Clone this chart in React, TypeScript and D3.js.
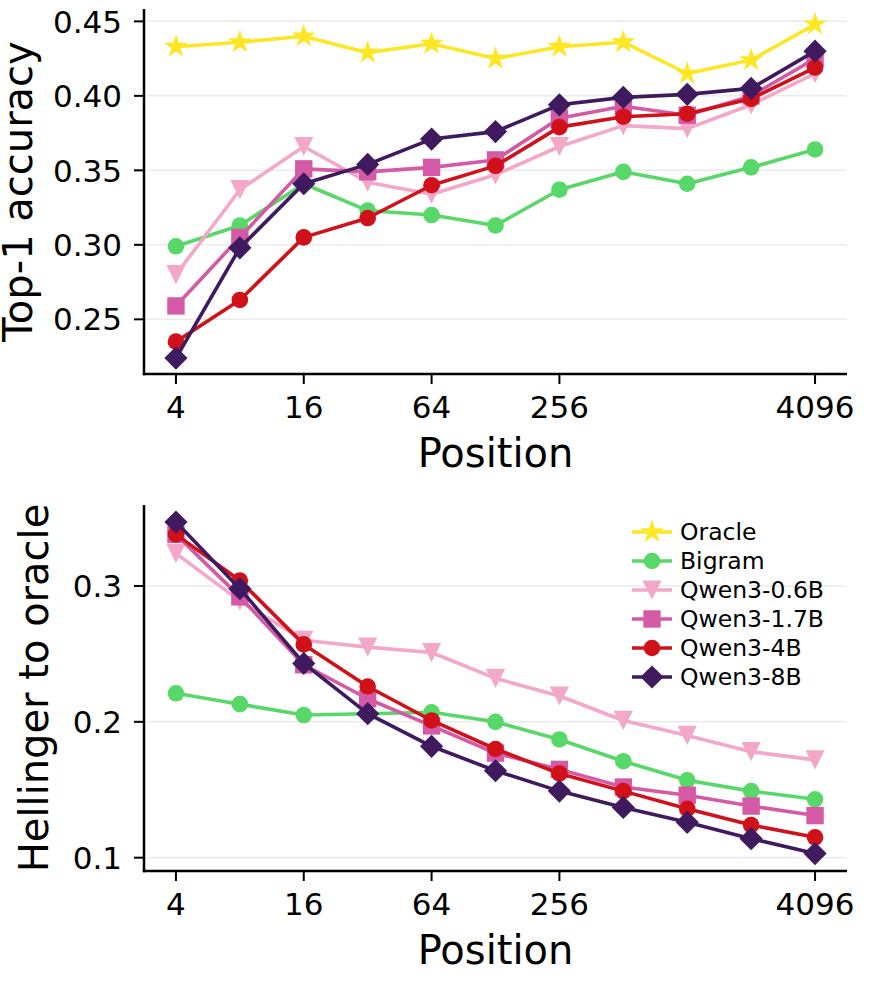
import * as d3 from "d3";
import { useEffect, useRef } from "react";

// x positions (log2 axis)
const positions = [4, 8, 16, 32, 64, 128, 256, 512, 1024, 2048, 4096];
const xTickValues = [4, 16, 64, 256, 4096];

const seriesNames = ["Oracle", "Bigram", "Qwen3-0.6B", "Qwen3-1.7B", "Qwen3-4B", "Qwen3-8B"];
const seriesColors = ["#fde725", "#57d868", "#f3a7c9", "#d45aa6", "#d0111a", "#3f1a5e"];
const seriesMarkers = ["star", "circle", "triangleDown", "square", "circle", "diamond"];

// top panel: Top-1 accuracy
const oracleTop = [0.433, 0.436, 0.44, 0.429, 0.435, 0.425, 0.433, 0.436, 0.415, 0.424, 0.448];
const bigramTop = [0.299, 0.313, 0.341, 0.323, 0.32, 0.313, 0.337, 0.349, 0.341, 0.352, 0.364];
const qwen06Top = [0.28, 0.337, 0.366, 0.342, 0.334, 0.347, 0.366, 0.38, 0.378, 0.394, 0.415];
const qwen17Top = [0.259, 0.305, 0.351, 0.349, 0.352, 0.357, 0.385, 0.393, 0.387, 0.4, 0.425];
const qwen4Top = [0.235, 0.263, 0.305, 0.318, 0.34, 0.353, 0.379, 0.386, 0.388, 0.398, 0.419];
const qwen8Top = [0.224, 0.298, 0.341, 0.354, 0.371, 0.376, 0.394, 0.399, 0.401, 0.405, 0.43];
const topTicks = [0.25, 0.3, 0.35, 0.4, 0.45];

// bottom panel: Hellinger distance to oracle (oracle itself not drawn)
const bigramBot = [0.221, 0.213, 0.205, 0.206, 0.207, 0.2, 0.187, 0.171, 0.157, 0.149, 0.143];
const qwen06Bot = [0.324, 0.289, 0.26, 0.255, 0.251, 0.232, 0.219, 0.201, 0.19, 0.178, 0.172];
const qwen17Bot = [0.338, 0.292, 0.242, 0.217, 0.197, 0.177, 0.165, 0.152, 0.146, 0.138, 0.131];
const qwen4Bot = [0.338, 0.304, 0.257, 0.226, 0.201, 0.18, 0.162, 0.149, 0.136, 0.124, 0.115];
const qwen8Bot = [0.347, 0.298, 0.243, 0.206, 0.182, 0.164, 0.149, 0.137, 0.126, 0.114, 0.103];
const botTicks = [0.1, 0.2, 0.3];

const FONT = "DejaVu Sans";

function markerPath(kind: string): string {
  if (kind === "circle") {
    return d3.symbol(d3.symbolCircle, Math.PI * 8.3 * 8.3)()!;
  }
  if (kind === "square") {
    const s = 8.7;
    return `M${-s},${-s}L${s},${-s}L${s},${s}L${-s},${s}Z`;
  }
  if (kind === "diamond") {
    const s = 11.6;
    return `M0,${-s}L${s},0L0,${s}L${-s},0Z`;
  }
  if (kind === "triangleDown") {
    const s = 9.6;
    return `M${-s},${-s}L${s},${-s}L0,${s}Z`;
  }
  // star, matplotlib style 5-point
  const ro = 12.5, ri = ro * 0.381966;
  let p = "";
  for (let i = 0; i < 10; i++) {
    const r = i % 2 === 0 ? ro : ri;
    const a = -Math.PI / 2 + (i * Math.PI) / 5;
    p += (i === 0 ? "M" : "L") + (r * Math.cos(a)).toFixed(2) + "," + (r * Math.sin(a)).toFixed(2);
  }
  return p + "Z";
}

interface PanelOpts {
  top: number;
  bottom: number;
  yDomain: [number, number];
  yTicks: number[];
  yFmt: string;
  yLabel: string;
  yLabelX: number;
  series: (number[] | null)[];
  legend: boolean;
}

function drawPanel(svg: any, o: PanelOpts) {
  const left = 144, right = 847;
  const x = d3.scaleLog().base(2).domain([2 ** 1.5, 2 ** 12.5]).range([left, right]);
  const y = d3.scaleLinear().domain(o.yDomain).range([o.bottom, o.top]);
  const g = svg.append("g");

  // grid
  g.selectAll(".grid")
    .data(o.yTicks)
    .enter()
    .append("line")
    .attr("x1", left)
    .attr("x2", right)
    .attr("y1", (d: number) => y(d))
    .attr("y2", (d: number) => y(d))
    .attr("stroke", "#ebebeb")
    .attr("stroke-width", 1.5);

  // lines + markers
  const line = d3
    .line<number>()
    .x((_, i) => x(positions[i]))
    .y((d) => y(d));

  o.series.forEach((vals, si) => {
    if (!vals) return;
    const c = seriesColors[si];
    g.append("path")
      .attr("d", line(vals))
      .attr("fill", "none")
      .attr("stroke", c)
      .attr("stroke-width", 3.6)
      .attr("stroke-linejoin", "round");
    g.selectAll(".m" + si)
      .data(vals)
      .enter()
      .append("path")
      .attr("d", markerPath(seriesMarkers[si]))
      .attr("transform", (d: number, i: number) => `translate(${x(positions[i])},${y(d)})`)
      .attr("fill", c);
  });

  // spines
  g.append("line")
    .attr("x1", left).attr("x2", left)
    .attr("y1", o.top).attr("y2", o.bottom + 1.2)
    .attr("stroke", "black").attr("stroke-width", 2.5);
  g.append("line")
    .attr("x1", left - 1.2).attr("x2", right)
    .attr("y1", o.bottom).attr("y2", o.bottom)
    .attr("stroke", "black").attr("stroke-width", 2.5);

  // y ticks
  const fmt = d3.format(o.yFmt);
  o.yTicks.forEach((t) => {
    g.append("line")
      .attr("x1", left - 10).attr("x2", left)
      .attr("y1", y(t)).attr("y2", y(t))
      .attr("stroke", "black").attr("stroke-width", 2);
    g.append("text")
      .attr("x", left - 22)
      .attr("y", y(t))
      .attr("dy", "0.36em")
      .attr("text-anchor", "end")
      .attr("font-family", FONT)
      .attr("font-size", 31)
      .text(fmt(t));
  });

  // x ticks
  xTickValues.forEach((t) => {
    g.append("line")
      .attr("x1", x(t)).attr("x2", x(t))
      .attr("y1", o.bottom).attr("y2", o.bottom + 10)
      .attr("stroke", "black").attr("stroke-width", 2);
    g.append("text")
      .attr("x", x(t))
      .attr("y", o.bottom + 44)
      .attr("text-anchor", "middle")
      .attr("font-family", FONT)
      .attr("font-size", 31)
      .text(String(t));
  });

  g.append("text")
    .attr("x", (left + right) / 2)
    .attr("y", o.bottom + 93)
    .attr("text-anchor", "middle")
    .attr("font-family", FONT)
    .attr("font-size", 40)
    .text("Position");

  g.append("text")
    .attr("transform", `translate(${o.yLabelX},${(o.top + o.bottom) / 2}) rotate(-90)`)
    .attr("text-anchor", "middle")
    .attr("font-family", FONT)
    .attr("font-size", 40)
    .text(o.yLabel);

  if (o.legend) {
    const lg = g.append("g");
    seriesNames.forEach((name, i) => {
      const ly = o.top + 27 + i * 29;
      lg.append("line")
        .attr("x1", 632).attr("x2", 672)
        .attr("y1", ly).attr("y2", ly)
        .attr("stroke", seriesColors[i]).attr("stroke-width", 3.6);
      lg.append("path")
        .attr("d", markerPath(seriesMarkers[i]))
        .attr("transform", `translate(652,${ly})`)
        .attr("fill", seriesColors[i]);
      lg.append("text")
        .attr("x", 680)
        .attr("y", ly)
        .attr("dy", "0.36em")
        .attr("font-family", FONT)
        .attr("font-size", 23.5)
        .text(name);
    });
  }
}

function App() {
  const ref = useRef<SVGSVGElement | null>(null);

  useEffect(() => {
    const svg = d3.select(ref.current);
    svg.selectAll("*").remove();

    drawPanel(svg, {
      top: 9,
      bottom: 374,
      yDomain: [0.2133, 0.4583],
      yTicks: topTicks,
      yFmt: ".2f",
      yLabel: "Top-1 accuracy",
      yLabelX: 32,
      series: [oracleTop, bigramTop, qwen06Top, qwen17Top, qwen4Top, qwen8Top],
      legend: false,
    });

    drawPanel(svg, {
      top: 505,
      bottom: 871,
      yDomain: [0.0902, 0.3596],
      yTicks: botTicks,
      yFmt: ".1f",
      yLabel: "Hellinger to oracle",
      yLabelX: 48,
      series: [null, bigramBot, qwen06Bot, qwen17Bot, qwen4Bot, qwen8Bot],
      legend: true,
    });
  }, []);

  return (
    <svg
      ref={ref}
      width={890}
      height={996}
      style={{ position: "absolute", left: 0, top: 0, background: "white" }}
    ></svg>
  );
}

export default App;
